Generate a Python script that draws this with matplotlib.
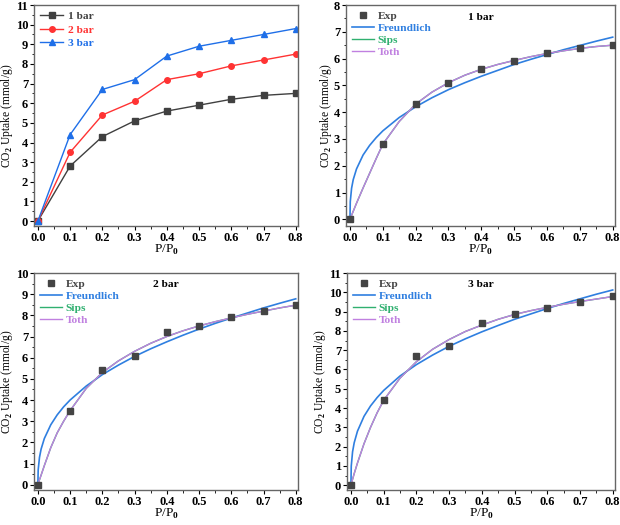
import numpy as np
import matplotlib
matplotlib.use('Agg')
import matplotlib.pyplot as plt
from matplotlib.ticker import MultipleLocator

plt.rcParams['font.family'] = ['Liberation Serif', 'DejaVu Serif']
plt.rcParams['font.weight'] = 'bold'
plt.rcParams['mathtext.fontset'] = 'custom'
plt.rcParams['mathtext.rm'] = 'Liberation Serif:bold'
plt.rcParams['mathtext.bf'] = 'Liberation Serif:bold'

# experimental points
p = [0.0, 0.1, 0.2, 0.3, 0.4, 0.5, 0.6, 0.7, 0.8]
exp1 = [0.0, 2.8, 4.3, 5.1, 5.6, 5.9, 6.2, 6.4, 6.5]
exp2 = [0.0, 3.5, 5.4, 6.1, 7.2, 7.5, 7.9, 8.2, 8.5]
exp3 = [0.0, 4.4, 6.7, 7.2, 8.4, 8.9, 9.2, 9.5, 9.8]

# fitted curves
pf = [0.0, 0.001, 0.005, 0.01, 0.02, 0.04, 0.06, 0.08, 0.1, 0.15, 0.2, 0.25,
      0.3, 0.35, 0.4, 0.45, 0.5, 0.55, 0.6, 0.65, 0.7, 0.75, 0.8]
freund1 = [0.0, 0.66, 1.16, 1.48, 1.88, 2.40, 2.76, 3.05, 3.30, 3.80, 4.20, 4.54,
           4.84, 5.10, 5.34, 5.56, 5.78, 5.97, 6.15, 6.33, 6.49, 6.65, 6.80]
freund2 = [0.0, 0.70, 1.29, 1.68, 2.18, 2.83, 3.30, 3.68, 4.00, 4.66, 5.20, 5.65,
           6.06, 6.42, 6.75, 7.06, 7.35, 7.62, 7.87, 8.11, 8.35, 8.57, 8.78]
freund3 = [0.0, 0.99, 1.73, 2.20, 2.80, 3.57, 4.11, 4.54, 4.91, 5.66, 6.25, 6.75,
           7.20, 7.59, 7.95, 8.28, 8.60, 8.88, 9.16, 9.42, 9.66, 9.90, 10.12]
toth1 = [0.0, 0.03, 0.15, 0.30, 0.60, 1.17, 1.72, 2.27, 2.80, 3.65, 4.30, 4.75,
         5.10, 5.38, 5.60, 5.78, 5.93, 6.07, 6.19, 6.29, 6.38, 6.45, 6.50]
toth2 = [0.0, 0.05, 0.23, 0.45, 0.90, 1.75, 2.45, 3.00, 3.50, 4.55, 5.30, 5.85,
         6.30, 6.68, 7.00, 7.27, 7.50, 7.70, 7.88, 8.05, 8.20, 8.35, 8.48]
toth3 = [0.0, 0.06, 0.30, 0.60, 1.15, 2.15, 3.00, 3.75, 4.40, 5.55, 6.40, 7.05,
         7.55, 7.97, 8.30, 8.60, 8.85, 9.05, 9.22, 9.38, 9.52, 9.65, 9.78]
sips1 = toth1
sips2 = toth2
sips3 = toth3

c_grey = '#404040'
c_red = '#ff3333'
c_blue = '#1f6fe8'
c_fr = '#2f7fe0'
c_sips = '#30b070'
c_toth = '#c080e0'
fs = 9
lfs = 8.2


def style(ax, ymax):
    ax.set_xlim(-0.012, 0.807)
    ax.set_ylim(-0.25, ymax)
    ax.xaxis.set_major_locator(MultipleLocator(0.1))
    ax.xaxis.set_minor_locator(MultipleLocator(0.05))
    ax.yaxis.set_major_locator(MultipleLocator(1))
    ax.yaxis.set_minor_locator(MultipleLocator(0.5))
    ax.tick_params(which='both', direction='out', labelsize=fs)
    ax.tick_params(which='major', length=3, width=0.8, pad=1.2)
    ax.tick_params(which='minor', length=1.8, width=0.6)
    ax.xaxis.set_major_formatter(plt.FormatStrFormatter('%.1f'))
    for s in ax.spines.values():
        s.set_color('#666666')
        s.set_linewidth(1.0)
    ax.set_xlabel('P/P$_0$', fontsize=9.5, labelpad=-0.5)
    ax.set_ylabel('CO$_2$ Uptake (mmol/g)', fontsize=8.3, labelpad=0.3)


fig = plt.figure(figsize=(6.2, 5.25), dpi=100)
W, H = 620.0, 525.0


def make_ax(l, r, t, b):
    return fig.add_axes([l / W, 1 - b / H, (r - l) / W, (b - t) / H])


# panel a
ax = make_ax(34, 298, 5, 226)
ax.plot(p, exp1, '-s', color=c_grey, lw=1, ms=4, label='1 bar')
ax.plot(p, exp2, '-o', color=c_red, lw=1, ms=4, label='2 bar')
ax.plot(p, exp3, '-^', color=c_blue, lw=1, ms=4.5, label='3 bar')
style(ax, 11)
leg = ax.legend(loc='upper left', frameon=False, fontsize=lfs, handlelength=2.0,
                handletextpad=0.4, borderaxespad=0.15, labelspacing=0.3)
for txt, col in zip(leg.get_texts(), [c_grey, c_red, c_blue]):
    txt.set_color(col)

panels = [
    ((346, 615, 5, 226), exp1, freund1, sips1, toth1, 8, '1 bar'),
    ((34, 298, 273, 490), exp2, freund2, sips2, toth2, 10, '2 bar'),
    ((347, 615, 273, 490), exp3, freund3, sips3, toth3, 11, '3 bar'),
]
for box, e, fr, sp, tt, ymax, title in panels:
    ax = make_ax(*box)
    ax.plot(pf, fr, '-', color=c_fr, lw=1.2, label='Freundlich')
    ax.plot(pf, sp, '-', color=c_sips, lw=1.0, label='Sips')
    ax.plot(pf, tt, '-', color=c_toth, lw=1.0, label='Toth')
    ax.plot(p, e, 's', color='#444444', ms=4, label='Exp', zorder=5)
    style(ax, ymax)
    h, lab = ax.get_legend_handles_labels()
    order = [3, 0, 1, 2]
    leg = ax.legend([h[i] for i in order], [lab[i] for i in order],
                    loc='upper left', frameon=False, fontsize=lfs,
                    handlelength=2.0, handletextpad=0.3, borderaxespad=0.1,
                    labelspacing=0.2)
    for txt, col in zip(leg.get_texts(), ['#444444', c_fr, c_sips, c_toth]):
        txt.set_color(col)
    ax.text(0.5, 0.945, title, transform=ax.transAxes, fontsize=lfs,
            ha='center', va='center')

fig.savefig('out.png', dpi=100)
